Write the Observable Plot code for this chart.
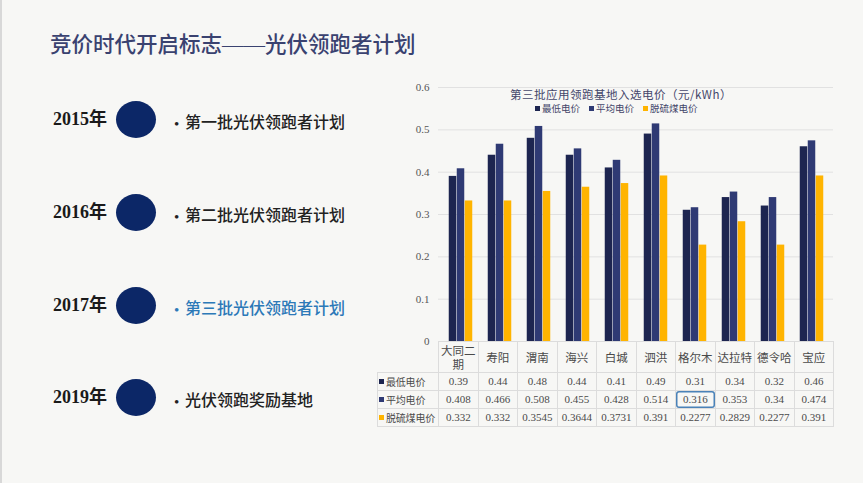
<!DOCTYPE html>
<html><head><meta charset="utf-8">
<script src="https://cdn.jsdelivr.net/npm/d3@7"></script>
<script src="https://cdn.jsdelivr.net/npm/@observablehq/plot@0.6"></script>
<style>
html,body{margin:0;padding:0;}
body{width:863px;height:483px;background:#f7f7f5;position:relative;overflow:hidden;font-family:"Liberation Serif","Noto Sans CJK SC",serif;}
.abs{position:absolute;white-space:nowrap;}
#edgeL{left:0;top:0;width:2px;height:483px;background:#d8d8d8;}
#title{left:50px;top:31px;font-size:21.5px;line-height:28px;color:#3a4270;font-weight:500;}
.year{font-size:18px;font-weight:bold;color:#1a1a1a;line-height:24px;}
.dot{width:40px;height:37px;border-radius:50%;background:#0c2767;}
.item{font-size:16px;line-height:22px;color:#222;font-family:"Noto Sans CJK SC",sans-serif;font-weight:500;}
.bullet{font-size:15px;line-height:22px;color:#222;}
#chart{left:370px;top:75px;}
#ctitle{left:510px;top:88px;font-size:11.5px;line-height:13px;color:#44466a;font-family:"Noto Sans CJK SC",sans-serif;letter-spacing:0.5px;}
#legend{left:535px;top:103px;font-size:9.5px;line-height:10px;color:#44466a;font-family:"Noto Sans CJK SC",sans-serif;}
#legend span.sw{display:inline-block;width:5px;height:5px;margin-right:2px;vertical-align:1px;}
#legend span.it{margin-right:9px;}
table{position:absolute;left:377px;top:341px;border-collapse:collapse;table-layout:fixed;font-size:11px;color:#4a4a4a;}
td{border:1px solid #dcdcdc;text-align:center;padding:0;height:17px;line-height:15px;overflow:hidden;}
td.lab{text-align:left;font-family:"Noto Sans CJK SC",sans-serif;font-size:10px;padding-left:1px;white-space:nowrap;letter-spacing:-0.2px;}
td.hd{font-family:"Noto Sans CJK SC",sans-serif;font-size:11.5px;height:30px;line-height:14px;}
td.corner{border:none;border-right:1px solid #dcdcdc;border-bottom:1px solid #dcdcdc;}
td.sel{box-shadow:inset 0 0 0 1.5px #4a82b8;border-radius:3px;}
span.sq{display:inline-block;width:5px;height:5px;margin-right:2px;vertical-align:2px;}
</style></head>
<body>
<div id="edgeL" class="abs"></div>
<div id="title" class="abs">竞价时代开启标志——光伏领跑者计划</div>
<div id="timeline"></div>
<div id="chart" class="abs"></div>
<div id="ctitle" class="abs"></div>
<div id="legend" class="abs"></div>
<script>
// Timeline
const years = ["2015年", "2016年", "2017年", "2019年"];
const items = ["第一批光伏领跑者计划", "第二批光伏领跑者计划", "第三批光伏领跑者计划", "光伏领跑奖励基地"];
const highlightItem = 2;

// Chart data
const chartTitle = "第三批应用领跑基地入选电价（元/kWh）";
const categories = ["大同二期", "寿阳", "渭南", "海兴", "白城", "泗洪", "格尔木", "达拉特", "德令哈", "宝应"];
const seriesNames = ["最低电价", "平均电价", "脱硫煤电价"];
const minPrice = [0.39, 0.44, 0.48, 0.44, 0.41, 0.49, 0.31, 0.34, 0.32, 0.46];
const avgPrice = [0.408, 0.466, 0.508, 0.455, 0.428, 0.514, 0.316, 0.353, 0.34, 0.474];
const coalPrice = [0.332, 0.332, 0.3545, 0.3644, 0.3731, 0.391, 0.2277, 0.2829, 0.2277, 0.391];
const tableText = [
  ["0.39", "0.44", "0.48", "0.44", "0.41", "0.49", "0.31", "0.34", "0.32", "0.46"],
  ["0.408", "0.466", "0.508", "0.455", "0.428", "0.514", "0.316", "0.353", "0.34", "0.474"],
  ["0.332", "0.332", "0.3545", "0.3644", "0.3731", "0.391", "0.2277", "0.2829", "0.2277", "0.391"]
];
const yTickCount = 6;
const colors = ["#1d2550", "#2f3a74", "#ffb400"];

// timeline layout
const rowY = [119, 212, 305, 397];
const tl = document.getElementById("timeline");
years.forEach((y, i) => {
  const yr = document.createElement("div");
  yr.className = "abs year"; yr.textContent = y;
  yr.style.left = "53px"; yr.style.top = (rowY[i] - 12) + "px";
  tl.appendChild(yr);
  const dot = document.createElement("div");
  dot.className = "abs dot";
  dot.style.left = "116px"; dot.style.top = (rowY[i] - 18) + "px";
  tl.appendChild(dot);
  const b = document.createElement("div");
  b.className = "abs bullet"; b.textContent = "•";
  b.style.left = "174px"; b.style.top = (rowY[i] - 6) + "px";
  if (i === highlightItem) b.style.color = "#2c79b8";
  tl.appendChild(b);
  const it = document.createElement("div");
  it.className = "abs item";
  it.textContent = items[i];
  it.style.left = "185px"; it.style.top = (rowY[i] - 9) + "px";
  if (i === highlightItem) it.style.color = "#2c79b8";
  tl.appendChild(it);
});

// chart
const series = [minPrice, avgPrice, coalPrice];
const W = 490, H = 360, mL = 68, mR = 27;
const band = (W - mL - mR) / categories.length;
const barW = 8;
const marks = [
  Plot.ruleY(d3.ticks(0, 0.6, yTickCount), {y: d => d, stroke: "#e1e1e1", strokeWidth: 1})
];
series.forEach((vals, i) => {
  const data = categories.map((c, j) => ({cat: c, v: vals[j]}));
  marks.push(Plot.barY(data, {
    x: "cat", y: "v", fill: colors[i],
    insetLeft: (band - barW) / 2, insetRight: (band - barW) / 2,
    dx: (i - 1) * barW
  }));
});
const svg = Plot.plot({
  width: W, height: H,
  marginLeft: mL, marginRight: mR, marginTop: 12, marginBottom: 94,
  style: {background: "transparent", fontFamily: "Liberation Serif, serif", fontSize: "11px", color: "#555"},
  x: {domain: categories, padding: 0, axis: null},
  y: {domain: [0, 0.6], ticks: yTickCount, tickSize: 0, tickPadding: 9, label: null,
      tickFormat: d => d === 0 ? "0" : d3.format(".1f")(d)},
  marks
});
document.getElementById("chart").appendChild(svg);

document.getElementById("ctitle").textContent = chartTitle;
const lg = document.getElementById("legend");
seriesNames.forEach((n, i) => {
  const s = document.createElement("span"); s.className = "it";
  s.innerHTML = `<span class="sw" style="background:${colors[i]}"></span>${n}`;
  lg.appendChild(s);
});

// data table
const labW = 438 - 377;
const tbl = document.createElement("table");
tbl.style.width = (labW + band * categories.length) + "px";
const cg = document.createElement("colgroup");
const c0 = document.createElement("col"); c0.style.width = labW + "px"; cg.appendChild(c0);
categories.forEach(() => { const c = document.createElement("col"); c.style.width = band + "px"; cg.appendChild(c); });
tbl.appendChild(cg);
const hr = document.createElement("tr");
const corner = document.createElement("td"); corner.className = "corner"; hr.appendChild(corner);
categories.forEach(c => { const td = document.createElement("td"); td.className = "hd"; td.textContent = c; hr.appendChild(td); });
tbl.appendChild(hr);
seriesNames.forEach((n, i) => {
  const tr = document.createElement("tr");
  const lab = document.createElement("td"); lab.className = "lab";
  lab.innerHTML = `<span class="sq" style="background:${colors[i]}"></span>${n}`;
  tr.appendChild(lab);
  tableText[i].forEach((t, j) => {
    const td = document.createElement("td"); td.textContent = t;
    if (i === 1 && j === 6) td.className = "sel";
    tr.appendChild(td);
  });
  tbl.appendChild(tr);
});
document.body.appendChild(tbl);
</script>
</body></html>
